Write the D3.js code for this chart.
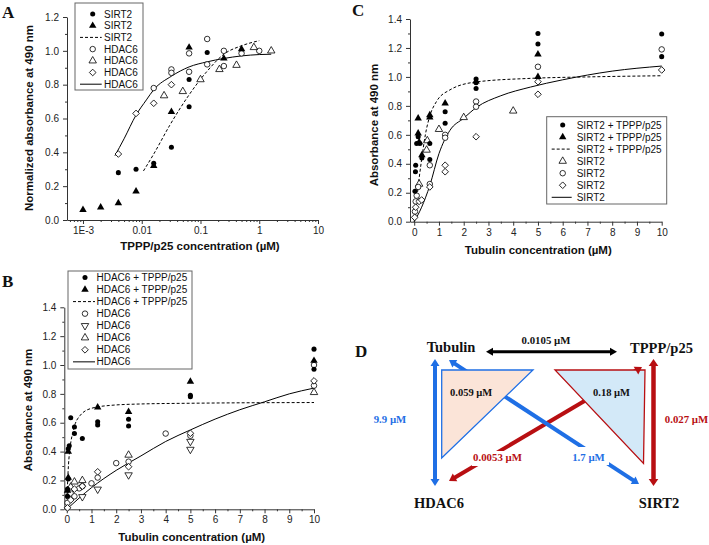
<!DOCTYPE html>
<html><head><meta charset="utf-8">
<script src="https://cdn.jsdelivr.net/npm/d3@7/dist/d3.min.js"></script>
<style>body{margin:0;background:#fff}</style>
</head><body>
<svg id="c" width="709" height="545" xmlns="http://www.w3.org/2000/svg"></svg>
<script>
// ---------------- DATA ----------------
// Panel A (x: TPPP/p25 concentration, log)
const aXTicks = [0.001, 0.01, 0.1, 1, 10];
const aXTickLabels = ["1E-3", "0.01", "0.1", "1", "10"];
const aYTicks = [0, 0.2, 0.4, 0.6, 0.8, 1.0, 1.2];
const aSirt2Circle = [[0.004,0.28],[0.008,0.30],[0.016,0.335],[0.032,0.43],[0.064,0.67],[0.064,0.83],[0.13,0.99]];
const aSirt2Tri = [[0.001,0.06],[0.002,0.075],[0.004,0.10],[0.008,0.17],[0.016,0.32],[0.032,0.64],[0.064,1.02],[0.25,0.955],[0.5,1.01]];
const aHdac6Circle = [[0.016,0.78],[0.032,0.89],[0.032,0.87],[0.064,0.985],[0.064,0.876],[0.13,1.07],[0.13,0.92],[0.25,1.0],[0.25,0.91],[0.5,0.985],[1.0,1.0]];
const aHdac6Tri = [[0.024,0.735],[0.05,0.76],[0.1,0.83],[0.21,0.89],[0.41,0.915],[0.81,1.02],[1.6,1.0]];
const aHdac6Diamond = [[0.004,0.39],[0.008,0.63],[0.016,0.69],[0.032,0.80]];
const aSirt2Fit = [[0.0107,0.29],[0.016,0.39],[0.03,0.56],[0.064,0.74],[0.13,0.88],[0.25,0.98],[0.5,1.03],[1.0,1.06]];
const aHdac6Fit = [[0.0035,0.38],[0.005,0.48],[0.008,0.62],[0.012,0.71],[0.016,0.77],[0.032,0.85],[0.064,0.905],[0.13,0.935],[0.25,0.955],[0.5,0.97],[1.0,0.978],[1.6,0.98]];

// Panel B (x: tubulin concentration)
const bXTicks = [0,1,2,3,4,5,6,7,8,9,10];
const bYTicks = [0,0.2,0.4,0.6,0.8,1.0,1.2,1.4];
const bMixCircle = [[0.03,0.09],[0.03,0.14],[0.06,0.21],[0.06,0.42],[0.1,0.44],[0.16,0.635],[0.31,0.57],[0.31,0.525],[0.63,0.49],[1.25,0.607],[1.25,0.585],[2.5,0.624],[2.5,0.577],[5,0.79],[5,0.78],[10,1.11],[10,0.97]];
const bMixTri = [[0.03,0.13],[0.06,0.22],[0.06,0.40],[1.25,0.707],[2.5,0.676],[5,0.885],[10,1.03]];
const bHdCircle = [[0.03,0.045],[0.06,0.09],[0.16,0.11],[0.31,0.09],[0.5,0.145],[0.63,0.16],[1.0,0.18],[1.25,0.22],[2.0,0.32],[2.5,0.33],[4.0,0.525],[5,0.51],[10,1.0],[10,0.857]];
const bHdDownTri = [[0.63,0.087],[1.25,0.139],[2.5,0.238],[5,0.47],[5,0.415]];
const bHdTri = [[0.16,0.155],[0.31,0.19],[0.63,0.2],[2.5,0.376],[10,0.81]];
const bHdDiamond = [[0.03,0.01],[0.16,0.065],[0.31,0.14],[0.63,0.16],[1.25,0.26],[2.5,0.295],[5,0.527],[10,0.89]];
const bMixFit = [[0,0],[0.03,0.17],[0.07,0.31],[0.13,0.42],[0.27,0.55],[0.54,0.65],[1.0,0.70],[1.75,0.72],[3,0.73],[5,0.735],[10,0.74]];
const bHdFit = [[0,0],[1,0.15],[2,0.27],[3,0.37],[4,0.47],[5,0.55],[6,0.625],[7,0.69],[8,0.745],[9,0.80],[10,0.84]];

// Panel C
const cMixCircle = [[0.03,0.21],[0.05,0.345],[0.06,0.39],[0.1,0.54],[0.16,0.587],[0.23,0.54],[0.31,0.44],[0.63,0.54],[0.63,0.43],[1.25,0.76],[1.25,0.68],[2.5,0.985],[2.5,0.96],[2.5,0.92],[5,1.30],[5,1.227],[10,1.296],[10,1.14]];
const cMixTri = [[0.16,0.714],[0.16,0.61],[0.2,0.55],[0.31,0.46],[0.63,0.737],[0.63,0.72],[1.25,0.818],[2.5,0.97],[5,1.156],[5,1.0]];
const cSiTri = [[0.2,0.26],[0.5,0.495],[0.53,0.56],[1.0,0.638],[2.0,0.72],[4.0,0.765]];
const cSiCircle = [[0.03,0.07],[0.06,0.14],[0.1,0.18],[0.16,0.24],[0.63,0.39],[0.63,0.26],[1.25,0.6],[1.25,0.58],[2.5,0.83],[2.5,0.794],[5,1.07],[10,1.19]];
const cSiDiamond = [[0.02,0.03],[0.06,0.1],[0.2,0.14],[0.3,0.15],[0.63,0.24],[1.25,0.39],[1.25,0.345],[2.5,0.587],[5,0.967],[5,0.88],[10,1.048]];
const cMixFit = [[0,0],[0.1,0.15],[0.2,0.3],[0.3,0.43],[0.45,0.6],[0.63,0.73],[0.9,0.83],[1.44,0.91],[2.5,0.965],[4.7,0.99],[7,1.0],[10,1.008]];
const cSiFit = [[0,0],[0.3,0.1],[0.63,0.25],[1.0,0.47],[1.44,0.63],[2.0,0.715],[2.52,0.79],[3.5,0.87],[4.7,0.93],[6,0.98],[8,1.04],[10,1.075]];

// Panel D (dissociation constants)
const dNodes = ["Tubulin", "TPPP/p25", "HDAC6", "SIRT2"];
const dEdgeLabels = ["0.0105 µM", "9.9 µM", "0.027 µM", "0.0053 µM", "1.7 µM"];
const dTriangleLabels = ["0.059 µM", "0.18 µM"];

// ---------------- DRAW ----------------
const SANS = "Arial, 'Liberation Sans', Helvetica, sans-serif";
const SERIF = "'Times New Roman', 'Liberation Serif', serif";
const svg = d3.select("#c");
svg.append("rect").attr("width",709).attr("height",545).attr("fill","#fff");

const SYM = {
  circle:{t:d3.symbolCircle,s:20,fill:true,rot:0},
  ocircle:{t:d3.symbolCircle,s:24,fill:false,rot:0},
  tri:{t:d3.symbolTriangle,s:24,fill:true,rot:0},
  otri:{t:d3.symbolTriangle,s:24,fill:false,rot:0},
  dtri:{t:d3.symbolTriangle,s:24,fill:false,rot:180},
  diamond:{t:d3.symbolSquare,s:22,fill:false,rot:45}
};
function symAt(g, kind, cx, cy){
  const s = SYM[kind];
  g.append("path").attr("d", d3.symbol().type(s.t).size(s.s)())
    .attr("transform", `translate(${cx},${cy}) rotate(${s.rot})`)
    .attr("fill", s.fill ? "#000" : "#fff")
    .attr("stroke", s.fill ? "none" : "#000").attr("stroke-width", 0.8);
}
function marks(g, data, kind, x, y){
  const s = SYM[kind];
  g.selectAll(null).data(data).join("path")
    .attr("d", d3.symbol().type(s.t).size(s.s))
    .attr("transform", d => `translate(${x(d[0])},${y(d[1])}) rotate(${s.rot})`)
    .attr("fill", s.fill ? "#000" : "#fff")
    .attr("stroke", s.fill ? "none" : "#000").attr("stroke-width", 0.8);
}
function fit(g, data, x, y, dashed){
  g.append("path").datum(data)
    .attr("d", d3.line().x(d=>x(d[0])).y(d=>y(d[1])).curve(d3.curveMonotoneX))
    .attr("fill","none").attr("stroke","#000").attr("stroke-width",1)
    .attr("stroke-dasharray", dashed ? "3,2" : null);
}
function styleAxis(a){
  a.select(".domain").attr("stroke","#333").attr("stroke-width",1);
  a.selectAll(".tick line").attr("stroke","#333").attr("stroke-width",1);
  a.selectAll("text").attr("font-family",SANS).attr("font-size","10px").attr("fill","#222");
}
function axes(g, x, y, xMajor, xMinor, xFmt, yMajor, yMinor){
  const y0 = y.range()[0], x0 = x.range()[0];
  const ax = g.append("g").attr("transform",`translate(0,${y0})`)
    .call(d3.axisBottom(x).tickValues(xMajor).tickFormat(xFmt).tickSize(4).tickSizeOuter(0).tickPadding(3));
  styleAxis(ax);
  const axm = g.append("g").attr("transform",`translate(0,${y0})`)
    .call(d3.axisBottom(x).tickValues(xMinor).tickFormat("").tickSize(2).tickSizeOuter(0));
  styleAxis(axm); axm.select(".domain").remove();
  const ay = g.append("g").attr("transform",`translate(${x0},0)`)
    .call(d3.axisLeft(y).tickValues(yMajor).tickFormat(d3.format(".1f")).tickSize(4).tickSizeOuter(0).tickPadding(4));
  styleAxis(ay);
  const aym = g.append("g").attr("transform",`translate(${x0},0)`)
    .call(d3.axisLeft(y).tickValues(yMinor).tickFormat("").tickSize(2).tickSizeOuter(0));
  styleAxis(aym); aym.select(".domain").remove();
}
function title(g, text, x, y, rot){
  g.append("text").attr("transform",`translate(${x},${y}) rotate(${rot||0})`)
    .attr("text-anchor","middle").attr("font-family",SANS).attr("font-weight","bold")
    .attr("font-size","11.5px").attr("fill","#111").text(text);
}
function legend(g, box, symX, lineX0, lineX1, textX, y0, step, items){
  g.append("rect").attr("x",box[0]).attr("y",box[1]).attr("width",box[2]).attr("height",box[3])
    .attr("fill","#fff").attr("stroke","#666").attr("stroke-width",1);
  items.forEach((it,i)=>{
    const yy = y0 + i*step;
    if (it.kind === "solid" || it.kind === "dash"){
      g.append("line").attr("x1",lineX0).attr("x2",lineX1).attr("y1",yy).attr("y2",yy)
        .attr("stroke","#000").attr("stroke-width",1).attr("stroke-dasharray", it.kind==="dash"?"3,2":null);
    } else symAt(g, it.kind, symX, yy);
    g.append("text").attr("x",textX).attr("y",yy).attr("dy","0.36em")
      .attr("font-family",SANS).attr("font-size","10px").attr("fill","#111").text(it.label);
  });
}
function minorLog(lo, hi){
  const out=[]; for(let e=-4;e<=1;e++) for(let m=2;m<=9;m++){const v=m*Math.pow(10,e); if(v>lo&&v<hi) out.push(v);} return out;
}
function panelLetter(t, x, y){
  svg.append("text").attr("x",x).attr("y",y).attr("font-family",SERIF).attr("font-weight","bold")
    .attr("font-size","17px").attr("fill","#111").text(t);
}

// ---- Panel A ----
{
  const g = svg.append("g");
  const x = d3.scaleLog().domain([Math.pow(10,-3.272), 10]).range([67, 318]);
  const y = d3.scaleLinear().domain([0, 1.2]).range([220, 17]);
  axes(g, x, y, aXTicks, minorLog(x.domain()[0], 10), (d,i)=>aXTickLabels[i], aYTicks, [0.1,0.3,0.5,0.7,0.9,1.1]);
  fit(g, aSirt2Fit, x, y, true);
  fit(g, aHdac6Fit, x, y, false);
  marks(g, aHdac6Circle, "ocircle", x, y);
  marks(g, aHdac6Tri, "otri", x, y);
  marks(g, aHdac6Diamond, "diamond", x, y);
  marks(g, aSirt2Circle, "circle", x, y);
  marks(g, aSirt2Tri, "tri", x, y);
  title(g, "TPPP/p25 concentration (µM)", 200, 250, 0);
  title(g, "Normalized absorbance at 490 nm", 33, 118, -90);
  legend(g, [75,3,68,87], 92.7, 80, 101.7, 104, 14, 11.7, [
    {kind:"circle",label:"SIRT2"},{kind:"tri",label:"SIRT2"},{kind:"dash",label:"SIRT2"},
    {kind:"ocircle",label:"HDAC6"},{kind:"otri",label:"HDAC6"},{kind:"diamond",label:"HDAC6"},{kind:"solid",label:"HDAC6"}]);
  panelLetter("A", 2, 18);
}

// ---- Panel B ----
{
  const g = svg.append("g");
  const x = d3.scaleLinear().domain([-0.1, 10]).range([64.3, 314]);
  const y = d3.scaleLinear().domain([0, 1.4]).range([509.3, 307.3]);
  axes(g, x, y, bXTicks, d3.range(0.5,10,1), d3.format("d"), bYTicks, [0.1,0.3,0.5,0.7,0.9,1.1,1.3]);
  fit(g, bMixFit, x, y, true);
  fit(g, bHdFit, x, y, false);
  marks(g, bHdCircle, "ocircle", x, y);
  marks(g, bHdDownTri, "dtri", x, y);
  marks(g, bHdTri, "otri", x, y);
  marks(g, bHdDiamond, "diamond", x, y);
  marks(g, bMixCircle, "circle", x, y);
  marks(g, bMixTri, "tri", x, y);
  title(g, "Tubulin concentration (µM)", 191.7, 541, 0);
  title(g, "Absorbance at 490 nm", 32, 410, -90);
  legend(g, [68,271,124,98], 85, 73, 95, 96.5, 277.5, 12.05, [
    {kind:"circle",label:"HDAC6 + TPPP/p25"},{kind:"tri",label:"HDAC6 + TPPP/p25"},{kind:"dash",label:"HDAC6 + TPPP/p25"},
    {kind:"ocircle",label:"HDAC6"},{kind:"dtri",label:"HDAC6"},{kind:"otri",label:"HDAC6"},{kind:"diamond",label:"HDAC6"},{kind:"solid",label:"HDAC6"}]);
  panelLetter("B", 2, 287);
}

// ---- Panel C ----
{
  const g = svg.append("g");
  const x = d3.scaleLinear().domain([-0.17, 10]).range([410, 661.7]);
  const y = d3.scaleLinear().domain([0, 1.4]).range([221.7, 19]);
  axes(g, x, y, bXTicks, d3.range(0.5,10,1), d3.format("d"), bYTicks, [0.1,0.3,0.5,0.7,0.9,1.1,1.3]);
  fit(g, cMixFit, x, y, true);
  fit(g, cSiFit, x, y, false);
  marks(g, cSiTri, "otri", x, y);
  marks(g, cSiCircle, "ocircle", x, y);
  marks(g, cSiDiamond, "diamond", x, y);
  marks(g, cMixCircle, "circle", x, y);
  marks(g, cMixTri, "tri", x, y);
  title(g, "Tubulin concentration (µM)", 538.3, 254, 0);
  title(g, "Absorbance at 490 nm", 378, 125, -90);
  legend(g, [546.7,116.7,120,87.3], 562.7, 551.7, 571.7, 576.7, 125, 12.05, [
    {kind:"circle",label:"SIRT2 + TPPP/p25"},{kind:"tri",label:"SIRT2 + TPPP/p25"},{kind:"dash",label:"SIRT2 + TPPP/p25"},
    {kind:"otri",label:"SIRT2"},{kind:"ocircle",label:"SIRT2"},{kind:"diamond",label:"SIRT2"},{kind:"solid",label:"SIRT2"}]);
  panelLetter("C", 352, 16);
}

// ---- Panel D ----
{
  const g = svg.append("g");
  const BLUE = "#1f6fe5", RED = "#b80f12", PINK = "#fbe4d8", LBLUE = "#d3e9f8";
  function shaft(x1,y1,x2,y2,color,w,hl){
    const L=Math.hypot(x2-x1,y2-y1), ux=(x2-x1)/L, uy=(y2-y1)/L;
    g.append("line").attr("x1",x1+ux*hl*0.7).attr("y1",y1+uy*hl*0.7)
      .attr("x2",x2-ux*hl*0.7).attr("y2",y2-uy*hl*0.7).attr("stroke",color).attr("stroke-width",w);
  }
  function head(tx,ty,fx,fy,color,hl,hw){
    const L=Math.hypot(tx-fx,ty-fy), ux=(tx-fx)/L, uy=(ty-fy)/L, px=-uy, py=ux;
    g.append("path").attr("d",`M${tx},${ty}L${tx-ux*hl+px*hw},${ty-uy*hl+py*hw}L${tx-ux*hl-px*hw},${ty-uy*hl-py*hw}Z`).attr("fill",color);
  }
  function label(t, x, y, color, anchor, size){
    g.append("text").attr("x",x).attr("y",y).attr("text-anchor",anchor||"middle")
      .attr("font-family",SERIF).attr("font-weight","bold").attr("font-size",(size||10.8)+"px")
      .attr("fill",color).text(t);
  }
  // diagonals (beneath triangles)
  const rd = [642,367,449,481], bd = [449,360,639,484];
  shaft(...rd, RED, 4, 7);
  shaft(...bd, BLUE, 4, 7);
  // triangles
  g.append("path").attr("d","M441.7,370L533,370L441.7,458Z").attr("fill",PINK).attr("stroke",BLUE).attr("stroke-width",1.3);
  g.append("path").attr("d","M555,370L645,370L643.5,463.5Z").attr("fill",LBLUE).attr("stroke",RED).attr("stroke-width",1.3);
  head(rd[0],rd[1],rd[2],rd[3],RED,7,4.5); head(rd[2],rd[3],rd[0],rd[1],RED,7,4.5);
  head(bd[0],bd[1],bd[2],bd[3],BLUE,7,4.5); head(bd[2],bd[3],bd[0],bd[1],BLUE,7,4.5);
  // vertical arrows
  shaft(435,359,435,486,BLUE,4,7); head(435,359,435,486,BLUE,7,4.5); head(435,486,435,359,BLUE,7,4.5);
  shaft(653.5,359,653.5,486,RED,4.5,7); head(653.5,359,653.5,486,RED,7,4.8); head(653.5,486,653.5,359,RED,7,4.8);
  // horizontal black arrow
  shaft(486,351.7,617,351.7,"#000",3,7); head(486,351.7,617,351.7,"#000",7,4); head(617,351.7,486,351.7,"#000",7,4);
  // label backgrounds to break diagonals
  g.append("rect").attr("x",472).attr("y",451).attr("width",51).attr("height",15).attr("fill","#fff");
  g.append("rect").attr("x",570).attr("y",447).attr("width",39).attr("height",18).attr("fill","#fff");
  // node labels
  label(dNodes[0], 451, 352, "#111", "middle", 14.5);
  label(dNodes[1], 661.5, 353, "#111", "middle", 14.5);
  label(dNodes[2], 439, 508, "#111", "middle", 14.5);
  label(dNodes[3], 659, 508, "#111", "middle", 14.5);
  // edge labels
  label(dEdgeLabels[0], 546, 344, "#111");
  label(dEdgeLabels[1], 390, 423, BLUE);
  label(dEdgeLabels[2], 686.5, 423, RED);
  label(dEdgeLabels[3], 497.5, 461, RED);
  label(dEdgeLabels[4], 588.5, 461, BLUE);
  label(dTriangleLabels[0], 450, 396, "#111", "start", 10.5);
  label(dTriangleLabels[1], 593, 396, "#111", "start", 10.5);
  panelLetter("D", 355, 357);
}
</script>
</body></html>
